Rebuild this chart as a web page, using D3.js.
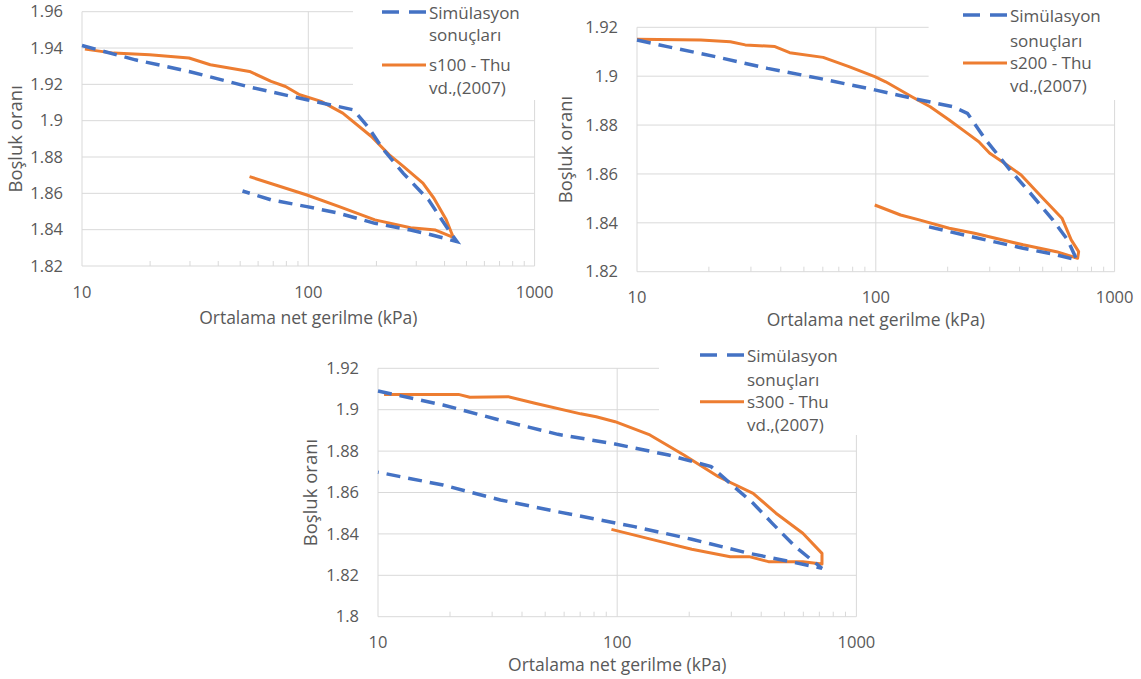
<!DOCTYPE html>
<html><head><meta charset="utf-8">
<script src="https://cdn.jsdelivr.net/npm/d3@7"></script>
<style>
body{margin:0;background:#fff}
svg text{font-family:"Open Sans",sans-serif;fill:#595959}
</style>
</head><body>
<svg id="chart" width="1141" height="679"></svg>
<script>
// ---------- data ----------
const xMajorTicks = [10, 100, 1000];
const xMinorTicks = [20,30,40,50,60,70,80,90,200,300,400,500,600,700,800,900];
const yTicksA = [1.82,1.84,1.86,1.88,1.90,1.92,1.94,1.96];
const yTicksB = [1.82,1.84,1.86,1.88,1.90,1.92];
const yTicksC = [1.80,1.82,1.84,1.86,1.88,1.90,1.92];
const xTitleA = "Ortalama net gerilme (kPa)";
const xTitleB = "Ortalama net gerilme  (kPa)";
const yTitle = "Boşluk oranı";
const simLegend = ["Simülasyon", "sonuçları"];
const legend100 = ["s100  - Thu", "vd.,(2007)"];
const legend200 = ["s200  - Thu", "vd.,(2007)"];
const legend300 = ["s300  - Thu", "vd.,(2007)"];

const sim100 = [[10,1.9414],[17.2,1.9335],[29.7,1.9271],[55,1.9185],[98.6,1.9115],[158,1.906],[183,1.8968],[215,1.884],[263,1.871],[340,1.8564],[407,1.8417],[454,1.8334],[352,1.8371],[283,1.8398],[197,1.8435],[137,1.849],[98.6,1.8527],[68.5,1.8564],[51.2,1.8613]];
const thu100 = [[10.3,1.9394],[13.8,1.9372],[19.9,1.9363],[29.7,1.9345],[36.9,1.9308],[55,1.9271],[68.5,1.9216],[79.3,1.9188],[91.6,1.9143],[114,1.9106],[142,1.9042],[190,1.8913],[228,1.8812],[263,1.8748],[321,1.8656],[359,1.8573],[407,1.8454],[430,1.838],[437,1.8358],[365,1.8398],[283,1.8411],[197,1.8454],[137,1.8527],[98.6,1.8591],[55,1.8692]];

const sim200 = [[10,1.9148],[13.4,1.9121],[21.3,1.908],[35.2,1.9032],[58,1.8991],[99,1.8944],[141.5,1.891],[210,1.8875],[242,1.8848],[289,1.8739],[365,1.8616],[444,1.8521],[551,1.8412],[636,1.833],[695,1.8248],[571,1.8269],[414,1.8296],[289,1.833],[203,1.8364],[155,1.8391]];
const thu200 = [[10,1.9151],[18.5,1.9148],[24.6,1.9141],[28.4,1.9128],[37.8,1.9121],[43.6,1.9096],[60.2,1.9077],[77.2,1.9039],[99,1.8998],[110,1.8977],[141.5,1.8916],[169,1.8875],[203,1.8821],[242,1.8766],[270,1.8732],[300,1.8685],[346,1.8644],[406,1.8596],[494,1.8507],[602,1.8419],[658,1.833],[707,1.8282],[700,1.8255],[571,1.8282],[414,1.831],[259,1.8357],[203,1.8378],[152,1.8412],[127,1.8432],[99,1.8473]];

const sim300 = [[10,1.909],[18.7,1.9023],[31.3,1.8954],[56.5,1.8881],[98,1.8834],[164,1.8781],[247,1.8725],[297,1.8644],[370,1.8548],[445,1.8451],[555,1.8338],[718,1.8234],[515,1.8269],[356,1.8306],[205,1.8374],[118,1.8435],[56.5,1.8507],[32.5,1.8564],[18.7,1.8636],[10,1.8698]];
const thu300 = [[10.6,1.9074],[21.7,1.9074],[24.2,1.906],[35,1.9063],[45.3,1.9031],[70.4,1.898],[81.7,1.8966],[98,1.8942],[137,1.8878],[190,1.8781],[265,1.8676],[370,1.8596],[461,1.85],[597,1.8403],[718,1.8306],[718,1.8255],[597,1.8266],[429,1.8266],[356,1.829],[297,1.829],[205,1.8326],[142,1.8371],[94.6,1.8422]];

// ---------- layout ----------
const BLUE = "#4472C4", ORANGE = "#ED7D31", GRID = "#d9d9d9";
const panels = [
  {x0:82, x1:534.6, y0:11.7, y1:266, yTicks:yTicksA, sim:sim100, thu:thu100, leg:legend100, xTitle:xTitleA,
   box:[353,0,202,100], legX:382, legY:[13,35,65,88], sampleY:[12,65], yTitleX:16, xTitleY:318},
  {x0:637, x1:1114.6, y0:27.3, y1:271.7, yTicks:yTicksB, sim:sim200, thu:thu200, leg:legend200, xTitle:xTitleB,
   box:[928.6,0,212.4,100], legX:963, legY:[16,41,63,86],  sampleY:[15,63], yTitleX:565.6, xTitleY:320},
  {x0:378, x1:856.4, y0:368.3, y1:616.7, yTicks:yTicksC, sim:sim300, thu:thu300, leg:legend300, xTitle:xTitleB,
   box:[659,340,200,95], legX:700, legY:[356,380,402,425], sampleY:[355,401.7], yTitleX:311, xTitleY:665}
];

const svg = d3.select("#chart");

panels.forEach(p => {
  const g = svg.append("g");
  const yMin = d3.min(p.yTicks), yMax = d3.max(p.yTicks);
  const x = d3.scaleLog().domain([10,1000]).range([p.x0,p.x1]);
  const y = d3.scaleLinear().domain([yMin,yMax]).range([p.y1,p.y0]);

  g.selectAll(".hg").data(p.yTicks).enter().append("line")
    .attr("x1",p.x0).attr("x2",p.x1)
    .attr("y1",d=>y(d)).attr("y2",d=>y(d))
    .attr("stroke",GRID).attr("stroke-width",1);
  g.selectAll(".vg").data(xMajorTicks).enter().append("line")
    .attr("x1",d=>x(d)).attr("x2",d=>x(d))
    .attr("y1",p.y0).attr("y2",p.y1)
    .attr("stroke",GRID).attr("stroke-width",1);
  g.selectAll(".mt").data(xMinorTicks).enter().append("line")
    .attr("x1",d=>x(d)).attr("x2",d=>x(d))
    .attr("y1",p.y1-5).attr("y2",p.y1)
    .attr("stroke",GRID).attr("stroke-width",1);

  g.append("rect").attr("x",p.box[0]).attr("y",p.box[1])
    .attr("width",p.box[2]).attr("height",p.box[3]).attr("fill","#fff");

  g.selectAll(".yl").data(p.yTicks).enter().append("text")
    .attr("x",p.x0-19).attr("y",d=>y(d)).attr("dy","0.35em")
    .attr("text-anchor","end").attr("font-size",16.5)
    .text(d=>String(+d.toFixed(2)));
  g.selectAll(".xl").data(xMajorTicks).enter().append("text")
    .attr("x",d=>x(d)).attr("y",p.y1+26).attr("dy","0.35em")
    .attr("text-anchor","middle").attr("font-size",16.5)
    .text(d=>d);
  g.append("text").attr("x",(p.x0+p.x1)/2).attr("y",p.xTitleY).attr("dy","0.35em")
    .attr("text-anchor","middle").attr("font-size",17.5).text(p.xTitle);
  g.append("text").attr("transform",`translate(${p.yTitleX},${(p.y0+p.y1)/2}) rotate(-90)`)
    .attr("dy","0.35em").attr("text-anchor","middle").attr("font-size",18.5).text(yTitle);

  const line = d3.line().x(d=>x(d[0])).y(d=>y(d[1]));
  g.append("path").datum(p.thu).attr("d",line).attr("fill","none")
    .attr("stroke",ORANGE).attr("stroke-width",3).attr("stroke-linejoin","round");
  g.append("path").datum(p.sim).attr("d",line).attr("fill","none")
    .attr("stroke",BLUE).attr("stroke-width",3.5).attr("stroke-dasharray","14,8");

  g.append("line").attr("x1",p.legX).attr("x2",p.legX+44)
    .attr("y1",p.sampleY[0]).attr("y2",p.sampleY[0])
    .attr("stroke",BLUE).attr("stroke-width",3.5).attr("stroke-dasharray","17,10");
  g.append("line").attr("x1",p.legX).attr("x2",p.legX+44)
    .attr("y1",p.sampleY[1]).attr("y2",p.sampleY[1])
    .attr("stroke",ORANGE).attr("stroke-width",3);
  const legLines = simLegend.concat(p.leg);
  g.selectAll(".lt").data(legLines).enter().append("text")
    .attr("x",p.legX+47).attr("y",(d,i)=>p.legY[i]).attr("dy","0.35em")
    .attr("font-size",17).text(d=>d);
});
</script>
</body></html>
